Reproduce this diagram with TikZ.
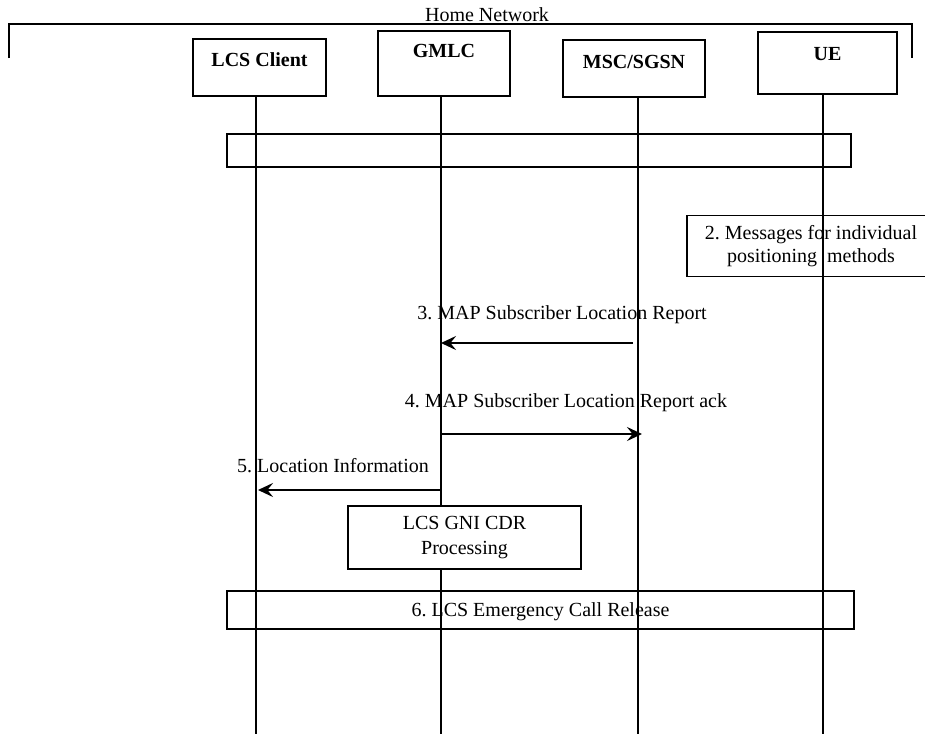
\documentclass[tikz,border=0pt]{standalone}
\usepackage{fontspec}
\setmainfont{Liberation Serif}
\usetikzlibrary{arrows.meta,positioning}
\frenchspacing

\begin{document}
\begin{tikzpicture}[x=0.5pt,y=-0.5pt,font=\fontsize{10}{12}\selectfont,
  actor/.style={draw,line width=0.8pt,font=\fontsize{10}{12}\selectfont\bfseries,inner sep=0pt,anchor=base},
  phase/.style={draw,line width=0.7pt,inner sep=0pt},
  life/.style={line width=0.7pt},
  msg/.style={->,>={Stealth[length=7.5pt,width=7pt,inset=2.8pt]},line width=1.2pt}]
\useasboundingbox (0,0) rectangle (925,734);
% home network bracket
\coordinate (hnl) at (9,58);
\coordinate (hnr) at (912,58);
\draw[line width=0.9pt] (hnl) -- (9,24) -- (912,24) -- (hnr);
\node[anchor=base] (hn) at (487,21) {Home Network};
% entities
\node[actor,minimum width=66.5pt,text height=13.5pt,text depth=15pt] (lcs) at (259.5,66) {LCS Client};
\node[actor,minimum width=66pt,text height=13pt,text depth=19.5pt] (gmlc) at (444,57) {GMLC};
\node[actor,minimum width=71pt,text height=14pt,text depth=14.5pt] (msc) at (634,68) {MSC/SGSN};
\node[actor,minimum width=69.5pt,text height=14pt,text depth=17pt] (ue) at (827.5,60) {UE};
% lifelines
\coordinate (lcsend) at (256,734);
\coordinate (gmlcend) at (441,734);
\coordinate (mscend) at (638,734);
\coordinate (ueend) at (823,734);
\draw[life] (lcs.south -| lcsend) -- (lcsend);
\draw[life] (gmlc.south -| gmlcend) -- (gmlcend);
\draw[life] (msc.south -| mscend) -- (mscend);
\draw[life] (ue.south -| ueend) -- (ueend);
% step 1 (empty) and step 2
\node[phase,minimum width=312pt,minimum height=16.5pt] (req) at (539,150.5) {};
\node[phase,minimum width=124pt,minimum height=30.5pt,align=center,
  font=\fontsize{10}{11.5}\selectfont] (pos) at (811,246) {2. Messages for individual\\positioning\ \ methods};
% messages
\coordinate (m3a) at (633,343);
\coordinate (m3b) at (441,343);
\draw[msg] (m3a) -- (m3b);
\node[anchor=base] (l3) at (562,319) {3. MAP Subscriber Location Report};
\coordinate (m4a) at (441,434);
\coordinate (m4b) at (642,434);
\draw[msg] (m4a) -- (m4b);
\node[anchor=base] (l4) at (566,407) {4. MAP Subscriber Location Report ack};
\coordinate (m5a) at (441,490);
\coordinate (m5b) at (258,490);
\draw[msg] (m5a) -- (m5b);
\node[anchor=base] (l5) at (333,472) {5. Location Information};
% CDR processing and release
\node[phase,fill=white,line width=0.8pt,minimum width=116.5pt,minimum height=31.5pt,align=center,
  font=\fontsize{10}{12.5}\selectfont] (cdr) at (464.5,537.5) {LCS GNI CDR\\Processing};
\node[phase,minimum width=313.5pt,minimum height=19pt,text depth=0pt] (rel) at (540.5,610) {6. LCS Emergency Call Release};
\end{tikzpicture}
\end{document}
